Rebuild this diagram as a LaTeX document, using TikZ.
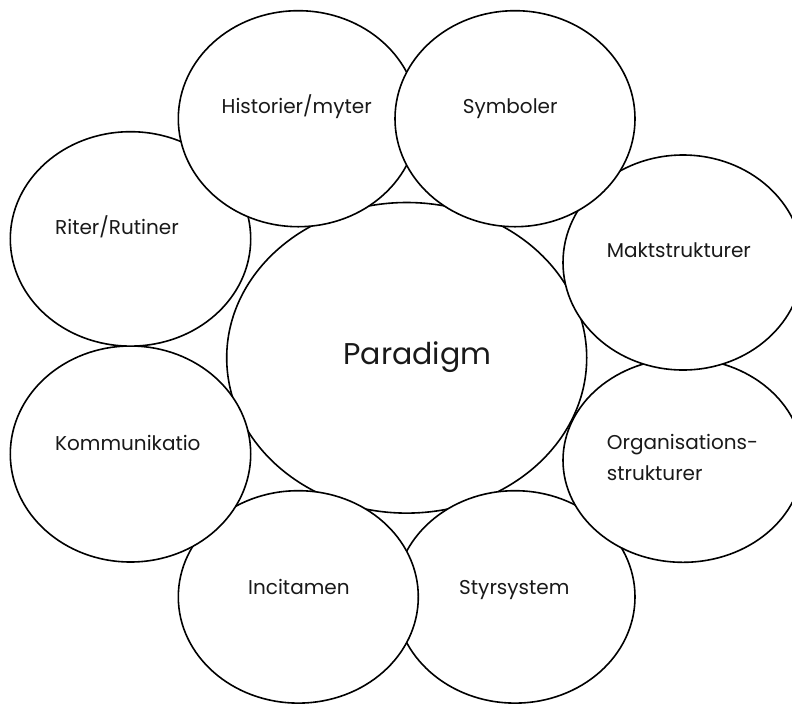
\documentclass[tikz,border=0pt]{standalone}
\usepackage{fontspec}
\setmainfont{Poppins}
\usetikzlibrary{shapes.geometric}
\begin{document}
\begin{tikzpicture}[x=1pt,y=-1pt,
  bubble/.style={ellipse, draw=black, fill=white, line width=1.6pt, inner sep=0pt, outer sep=0pt},
  lbl/.style={inner sep=0pt, text=black!90, font=\fontsize{20}{24}\selectfont},
  biglbl/.style={inner sep=0pt, text=black!90, font=\fontsize{30}{36}\selectfont}]
\useasboundingbox (0,0) rectangle (792,705);
\clip (0,0) rectangle (792,705);
\fill[white] (0,0) rectangle (792,705);
% ellipses, back to front
\node[bubble, minimum width=360pt, minimum height=310.6pt] (paradigm) at (406.7,357.8) {};
\node[bubble, minimum width=240pt, minimum height=212.4pt] (styr) at (515,596.9) {};
\node[bubble, minimum width=240pt, minimum height=204pt] (org) at (683,460.3) {};
\node[bubble, minimum width=240pt, minimum height=215pt] (makt) at (683,262.5) {};
\node[bubble, minimum width=240pt, minimum height=212.4pt] (inc) at (298.3,596.9) {};
\node[bubble, minimum width=240.4pt, minimum height=216pt] (komm) at (130.5,454) {};
\node[bubble, minimum width=240.4pt, minimum height=214.4pt] (riter) at (130.5,238.9) {};
\node[bubble, minimum width=240pt, minimum height=216pt] (hist) at (298.3,118.7) {};
\node[bubble, minimum width=240pt, minimum height=216pt] (symb) at (515,118.7) {};
% labels
\node[biglbl, anchor=base] (tparadigm) at (417.5,364) {Paradigm};
\node[lbl, anchor=base] (thist) at (296.7,113.3) {Historier/myter};
\node[lbl, anchor=base] (tsymb) at (510.2,113.3) {Symboler};
\node[lbl, anchor=base west] (triter) at (55,234) {Riter/Rutiner};
\node[lbl, anchor=base west] (tkomm) at (55,450) {Kommunikatio};
\node[lbl, anchor=base west] (tmakt) at (606.7,257.3) {Maktstrukturer};
\node[lbl, anchor=base west] (torg1) at (606.7,449) {Organisations-};
\node[lbl, anchor=base west] (torg2) at (606.7,480) {strukturer};
\node[lbl, anchor=base] (tinc) at (298.9,594) {Incitamen};
\node[lbl, anchor=base] (tstyr) at (514.3,594) {Styrsystem};
\end{tikzpicture}
\end{document}
